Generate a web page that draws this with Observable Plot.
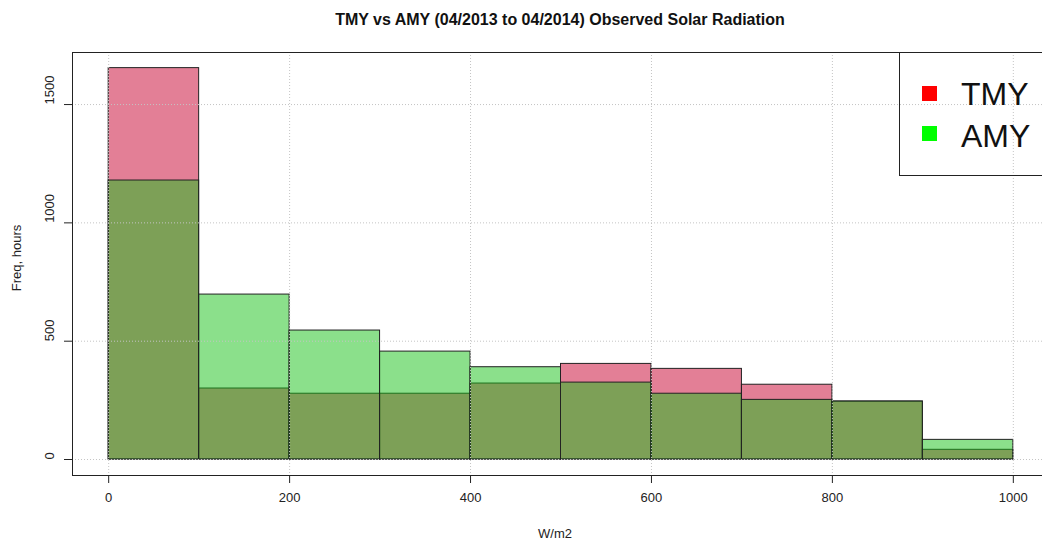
<!DOCTYPE html>
<html>
<head>
<meta charset="utf-8">
<script src="https://cdn.jsdelivr.net/npm/d3@7"></script>
<script src="https://cdn.jsdelivr.net/npm/@observablehq/plot@0.6"></script>
<style>
  body { margin: 0; background: #fff; }
  #wrap { position: relative; width: 1042px; height: 543px; overflow: hidden;
          font-family: "Liberation Sans", Arial, sans-serif; color: #111; }
  #title { position: absolute; left: 0; top: 11px; width: 1120px; text-align: center;
           font-size: 16px; line-height: 18px; font-weight: bold; }
  #chart { position: absolute; left: 0; top: 40px; width: 1050px; }
  #chart svg { max-width: none; }
</style>
</head>
<body>
<div id="wrap">
  <div id="title">TMY vs AMY (04/2013 to 04/2014) Observed Solar Radiation</div>
  <div id="chart"></div>
</div>
<script>
// Hourly solar radiation histogram, 100 W/m2 bins
const binStart = [0, 100, 200, 300, 400, 500, 600, 700, 800, 900];
const binWidth = 100;
const tmyHours = [1654, 300, 278, 278, 321, 404, 383, 316, 245, 41];
const amyHours = [1179, 697, 545, 456, 390, 325, 278, 252, 245, 83];
const xTicks = [0, 200, 400, 600, 800, 1000];
const yTicks = [0, 500, 1000, 1500];
const seriesNames = ["TMY", "AMY"];
const legendColors = ["#ff0000", "#00ff00"];

const toRows = (series, values) =>
  binStart.map((x0, i) => ({series, lo: x0, hi: x0 + binWidth, hours: values[i]}));
const tmyRows = toRows("TMY", tmyHours);
const amyRows = toRows("AMY", amyHours);

const outline = "#222";
const gridStyle = {stroke: "#c4c4c4", strokeOpacity: 1, strokeDasharray: "1,2"};
const plain = d => String(d);

const svg = Plot.plot({
  width: 1050,
  height: 503,
  marginLeft: 72,
  marginRight: 1,
  marginTop: 12,
  marginBottom: 68,
  x: {domain: [-40, 1040]},
  y: {domain: [-67.6, 1720]},
  style: {fontFamily: "'Liberation Sans', Arial, sans-serif", fontSize: "13px", color: "#222", background: "transparent"},
  marks: [
    Plot.rect(tmyRows, {x1: "lo", x2: "hi", y1: 0, y2: "hours", fill: "#c8002e", fillOpacity: 0.5, stroke: outline, strokeWidth: 1}),
    Plot.rect(amyRows, {x1: "lo", x2: "hi", y1: 0, y2: "hours", fill: "#17c117", fillOpacity: 0.5, stroke: outline, strokeWidth: 1}),
    Plot.gridX(xTicks, gridStyle),
    Plot.gridY(yTicks, gridStyle),
    Plot.axisX(xTicks, {tickSize: 8, tickPadding: 9, label: null, fontSize: 13, tickFormat: plain}),
    Plot.axisY(yTicks, {tickSize: 8, label: null, tickFormat: () => ""}),
    // y tick labels, set parallel to the axis
    Plot.text(yTicks, {y: d => d, text: plain, frameAnchor: "left", dx: -23, rotate: -90, fontSize: 13, fill: "#222"}),
    Plot.frame({stroke: outline})
  ]
});
document.getElementById("chart").append(svg);

// Axis titles and legend, placed in the SVG's own coordinates
const g = d3.select(svg).append("g")
  .attr("font-family", "'Liberation Sans', Arial, sans-serif")
  .attr("fill", "#222");

g.append("text")
  .attr("transform", "translate(21,218) rotate(-90)")
  .attr("text-anchor", "middle")
  .attr("font-size", 13)
  .text("Freq, hours");

g.append("text")
  .attr("x", 555).attr("y", 498)
  .attr("text-anchor", "middle")
  .attr("font-size", 13)
  .text("W/m2");

const legend = g.append("g");
legend.append("rect")
  .attr("x", 899.5).attr("y", 12.5).attr("width", 200).attr("height", 123)
  .attr("fill", "none").attr("stroke", outline);
seriesNames.forEach((name, i) => {
  legend.append("rect")
    .attr("x", 922).attr("y", 46 + i * 40).attr("width", 15).attr("height", 15)
    .attr("fill", legendColors[i]);
  legend.append("text")
    .attr("x", 961).attr("y", 65 + i * 42)
    .attr("text-anchor", "start")
    .attr("font-size", 32).attr("fill", "#111")
    .text(name);
});
</script>
</body>
</html>
